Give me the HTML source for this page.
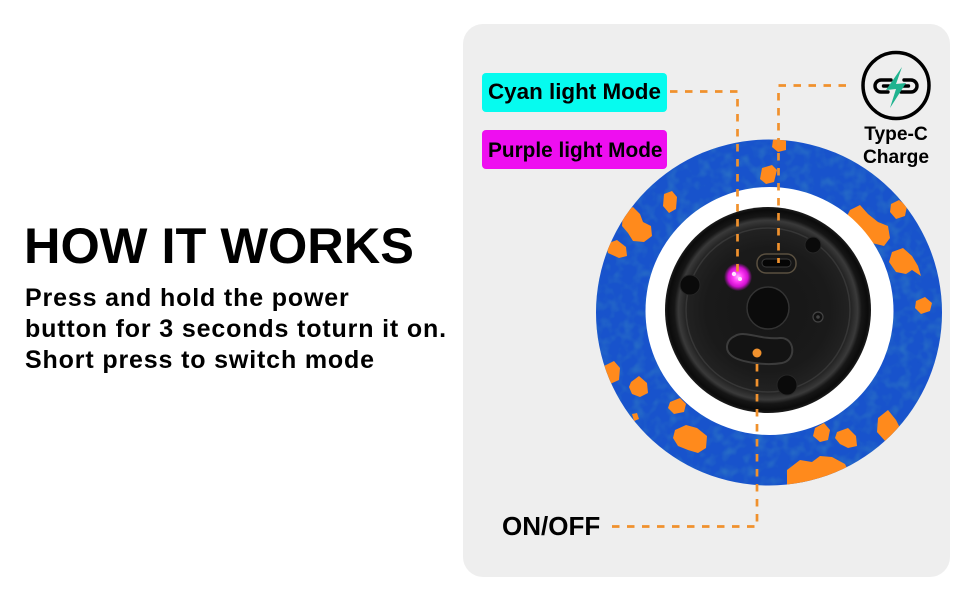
<!DOCTYPE html>
<html>
<head>
<meta charset="utf-8">
<style>
html,body{margin:0;padding:0;background:#ffffff;}
body{width:970px;height:600px;overflow:hidden;}
svg{display:block;}
text{font-family:"Liberation Sans",Arial,sans-serif;font-weight:bold;fill:#000;}
</style>
</head>
<body>
<svg width="970" height="600" viewBox="0 0 970 600" xmlns="http://www.w3.org/2000/svg">
  <defs>
    <clipPath id="outerClip"><circle cx="769" cy="312.5" r="173"/></clipPath>
    <radialGradient id="discGrad" cx="768" cy="310" r="103" gradientUnits="userSpaceOnUse">
      <stop offset="0" stop-color="#161616"/>
      <stop offset="0.6" stop-color="#1a1a1a"/>
      <stop offset="0.8" stop-color="#222"/>
      <stop offset="0.87" stop-color="#3a3a3a"/>
      <stop offset="0.91" stop-color="#161616"/>
      <stop offset="0.97" stop-color="#0b0b0b"/>
      <stop offset="1" stop-color="#1c1c1c"/>
    </radialGradient>
    <radialGradient id="ledGrad" cx="738" cy="277" r="14" gradientUnits="userSpaceOnUse">
      <stop offset="0" stop-color="#ffb0ff"/>
      <stop offset="0.35" stop-color="#ff3cf5"/>
      <stop offset="0.7" stop-color="#d010d0"/>
      <stop offset="1" stop-color="#d010d0" stop-opacity="0"/>
    </radialGradient>
    <filter id="tex" x="0" y="0" width="100%" height="100%">
      <feTurbulence type="fractalNoise" baseFrequency="0.09" numOctaves="2" seed="4"/>
      <feColorMatrix type="matrix" values="0 0 0 0 0.03  0 0 0 0 0.2  0 0 0 0 0.55  2 0 0 0 -0.85"/>
    </filter>
  </defs>

  <!-- panel -->
  <rect x="463" y="24" width="487" height="553" rx="20" ry="20" fill="#eeeeee"/>

  <!-- left text -->
  <text x="24" y="263" font-size="50.5">HOW IT WORKS</text>
  <text x="25" y="306" font-size="25" letter-spacing="0.85">Press and hold the power</text>
  <text x="25" y="337" font-size="25" letter-spacing="0.85">button for 3 seconds toturn it on.</text>
  <text x="25" y="368" font-size="25" letter-spacing="0.85">Short press to switch mode</text>

  <!-- blue ring -->
  <circle cx="769" cy="312.5" r="173" fill="#1853cc"/>
  <g clip-path="url(#outerClip)">
    <rect x="596" y="139" width="347" height="347" filter="url(#tex)" opacity="0.7"/>
    <g fill="#ff8a1c">
      <polygon points="773,140 779,137 786,141 786,150 778,152 772,147"/>
      <polygon points="762,168 772,165 777,170 774,182 766,184 760,179"/>
      <polygon points="664,194 672,191 677,197 676,209 669,213 663,206"/>
      <polygon points="623,212 633,207 640,214 643,222 651,226 652,236 644,242 633,241 628,233 622,226"/>
      <polygon points="606,244 617,240 626,247 627,256 619,258 608,253"/>
      <polygon points="850,210 860,205 868,214 878,222 888,226 890,238 884,246 872,243 862,236 852,224 847,216"/>
      <polygon points="891,204 899,200 907,206 905,216 896,219 890,212"/>
      <polygon points="892,252 903,248 912,256 918,266 921,276 912,270 906,274 896,272 889,262"/>
      <polygon points="916,301 925,297 932,303 930,311 921,314 915,308"/>
      <polygon points="604,366 614,361 620,368 619,380 610,384 601,376"/>
      <polygon points="631,382 639,376 647,383 648,393 640,397 632,394 629,387"/>
      <polygon points="670,402 680,398 686,404 684,412 674,414 668,408"/>
      <polygon points="632,414 637,413 639,419 634,421"/>
      <polygon points="675,430 686,425 697,428 707,436 706,448 698,453 688,450 678,446 673,438"/>
      <polygon points="815,428 824,423 830,430 828,440 820,442 813,436"/>
      <polygon points="837,432 848,428 856,436 857,446 848,448 840,444 835,438"/>
      <polygon points="878,418 888,410 896,420 902,432 896,440 886,442 877,432"/>
      <polygon points="787,470 800,460 812,462 820,456 832,457 845,464 850,474 835,490 787,490"/>
    </g>
  </g>

  <!-- white ring -->
  <circle cx="769.5" cy="311" r="124" fill="#ffffff"/>

  <!-- black disc -->
  <circle cx="768" cy="310" r="103" fill="url(#discGrad)"/>
  <circle cx="768" cy="310" r="82" fill="none" stroke="#363636" stroke-width="1.5"/>
  <!-- screws -->
  <circle cx="690" cy="285" r="10" fill="#0a0a0a" stroke="#262626" stroke-width="1"/>
  <circle cx="813" cy="245" r="8" fill="#0a0a0a" stroke="#262626" stroke-width="1"/>
  <circle cx="787" cy="385" r="10" fill="#0a0a0a" stroke="#262626" stroke-width="1"/>
  <circle cx="818" cy="317" r="5" fill="#111" stroke="#444" stroke-width="1.2"/>
  <circle cx="818" cy="317" r="1.8" fill="#444"/>
  <!-- inner circle -->
  <circle cx="768" cy="308" r="21" fill="#0b0b0b" stroke="#333" stroke-width="1.5"/>
  <!-- port -->
  <rect x="757" y="254" width="39" height="19" rx="9" fill="#151515" stroke="#5a5040" stroke-width="1.5"/>
  <rect x="762" y="259" width="29" height="8" rx="4" fill="#050505" stroke="#3a3a3a" stroke-width="1"/>
  <!-- button -->
  <path d="M735 336 C745 330 760 340 780 338 C795 337 797 360 782 363 C765 366 740 362 732 356 C724 350 726 340 735 336 Z" fill="#131313" stroke="#3c3c3c" stroke-width="2"/>
  <!-- LED -->
  <circle cx="738" cy="277" r="14" fill="url(#ledGrad)"/>
  <circle cx="734" cy="274" r="2.2" fill="#ffe6ff"/>
  <circle cx="740" cy="279" r="2" fill="#ffe6ff"/>

  <!-- dashed connectors -->
  <g fill="none" stroke="#f0912d" stroke-width="2.7" stroke-dasharray="7.5 7.5">
    <path d="M670 91.5 H737.5 V272"/>
    <path d="M846 85.5 H778.5 V263"/>
    <path d="M612 526.5 H757 V356"/>
  </g>
  <circle cx="757" cy="353" r="4.5" fill="#f0912d"/>

  <!-- labels -->
  <rect x="482" y="73" width="185" height="39" rx="4" fill="#06fbef"/>
  <text x="488" y="99" font-size="22.4">Cyan light Mode</text>
  <rect x="482" y="130" width="185" height="39" rx="4" fill="#ee0ef0"/>
  <text x="488" y="157" font-size="20.8">Purple light Mode</text>

  <!-- Type-C icon -->
  <circle cx="896" cy="85.5" r="33" fill="none" stroke="#000" stroke-width="3.5"/>
  <g fill="none" stroke="#000" stroke-width="3.4" stroke-linecap="round">
    <path d="M891 80 H881 A6 6 0 0 0 881 92 H888"/>
    <path d="M883.5 86 H889"/>
    <path d="M901 92 H911 A6 6 0 0 0 911 80 H904"/>
    <path d="M903 86 H908.5"/>
  </g>
  <polygon points="902,67 886,90 896,89 890,108 906,83 896,84" fill="#1fb38f"/>
  <text x="896" y="140" font-size="19.2" text-anchor="middle">Type-C</text>
  <text x="896" y="163" font-size="19.2" text-anchor="middle">Charge</text>

  <!-- ON/OFF -->
  <text x="502" y="535" font-size="26">ON/OFF</text>
</svg>
</body>
</html>
